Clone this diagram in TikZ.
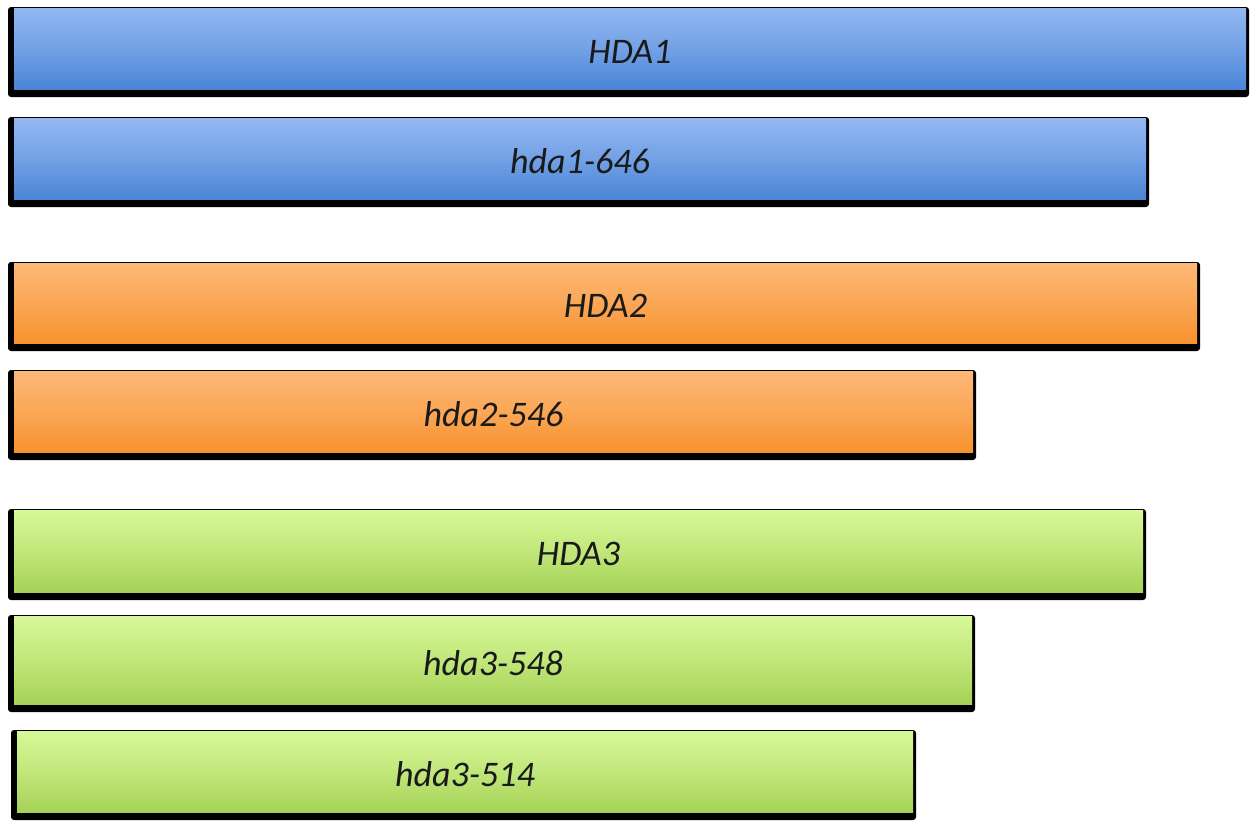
\documentclass[tikz,border=0pt]{standalone}
\usepackage{fontspec}
\setmainfont{Carlito}
\definecolor{bluetop}{HTML}{93B8F2}
\definecolor{bluebot}{HTML}{4A85D6}
\definecolor{orgtop}{HTML}{FDB877}
\definecolor{orgbot}{HTML}{F7922E}
\definecolor{grntop}{HTML}{D8F898}
\definecolor{grnbot}{HTML}{A5D256}
\definecolor{txt}{HTML}{1A1A1A}
\tikzset{
  barshadow/.style={fill=black, rounded corners=3pt},
  barlabel/.style={font=\itshape\fontsize{36}{40}\selectfont, text=txt, inner sep=0pt},
}
\newcommand\mkbar[8]{%
  \fill[barshadow] ({#2-6},{-(#3)+1}) rectangle ({#4+3},{-(#5)-8});
  \shade[top color=#6, bottom color=#7, middle color=#6!55!#7] (#2,{-(#3)}) rectangle (#4,{-(#5)});
  \node[barlabel] (#1) at ({(#2+#4)/2},{-((#3)+(#5))/2-3}) {#8};
}
\begin{document}
\begin{tikzpicture}[x=1pt,y=1pt]
\useasboundingbox[fill=white] (0,0) rectangle (1250,-820);
\mkbar{hdaone}{14}{8}{1246}{89}{bluetop}{bluebot}{HDA1}
\mkbar{hdaonem}{14}{118}{1146}{199}{bluetop}{bluebot}{hda1-646}
\mkbar{hdatwo}{14}{263}{1197}{343}{orgtop}{orgbot}{HDA2}
\mkbar{hdatwom}{14}{371}{973}{452}{orgtop}{orgbot}{hda2-546}
\mkbar{hdathree}{14}{510}{1143}{592}{grntop}{grnbot}{HDA3}
\mkbar{hdathreem}{14}{616}{972}{704}{grntop}{grnbot}{hda3-548}
\mkbar{hdathreen}{17}{731}{913}{812}{grntop}{grnbot}{hda3-514}
\end{tikzpicture}
\end{document}
